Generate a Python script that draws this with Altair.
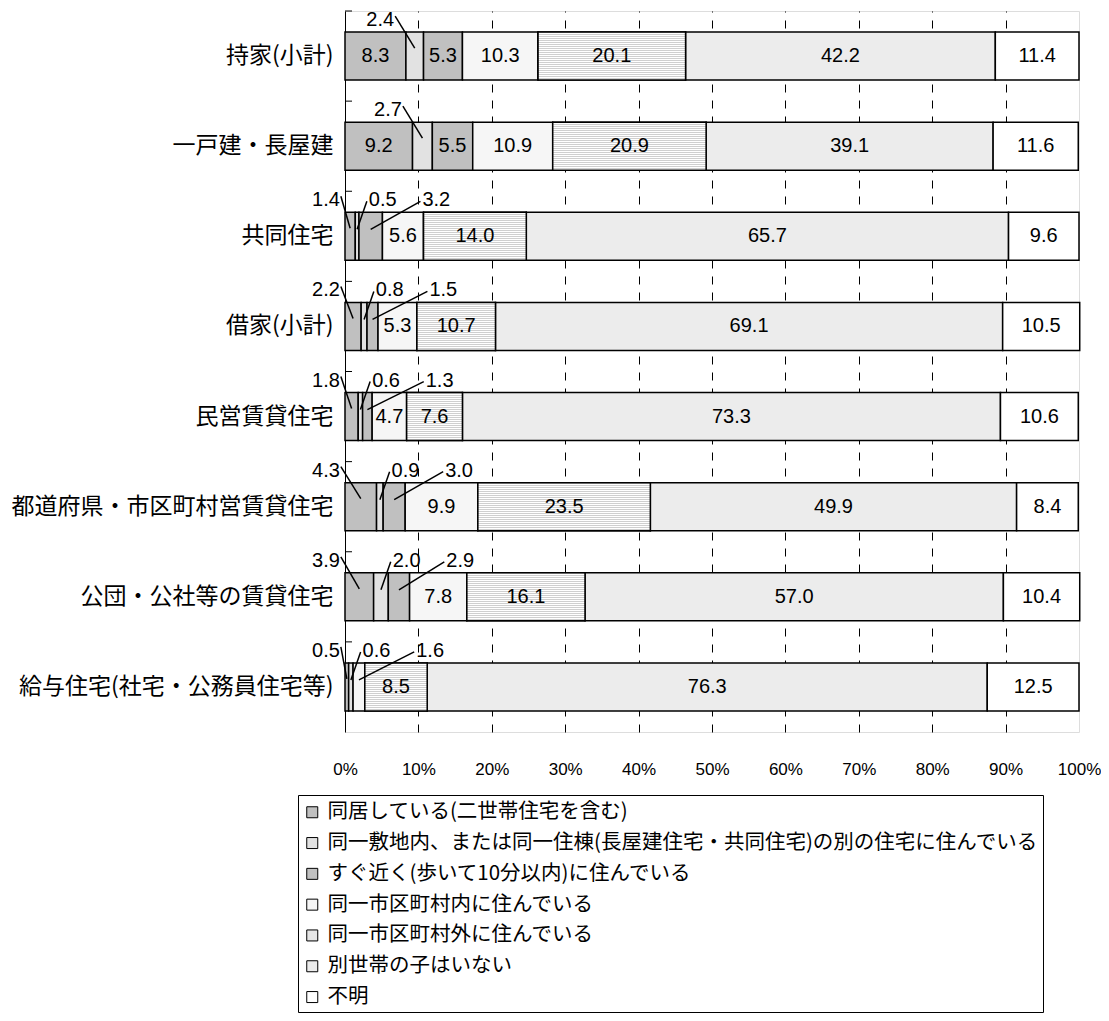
import altair as alt
import pandas as pd

categories = ["持家(小計)", "一戸建・長屋建", "共同住宅", "借家(小計)", "民営賃貸住宅",
              "都道府県・市区町村営賃貸住宅", "公団・公社等の賃貸住宅", "給与住宅(社宅・公務員住宅等)"]
series = ["同居している(二世帯住宅を含む)",
          "同一敷地内、または同一住棟(長屋建住宅・共同住宅)の別の住宅に住んでいる",
          "すぐ近く(歩いて10分以内)に住んでいる",
          "同一市区町村内に住んでいる",
          "同一市区町村外に住んでいる",
          "別世帯の子はいない",
          "不明"]
v_doukyo   = [8.3, 9.2, 1.4, 2.2, 1.8, 4.3, 3.9, 0.5]
v_shikichi = [2.4, 2.7, 0.5, 0.8, 0.6, 0.9, 2.0, 0.6]
v_chikaku  = [5.3, 5.5, 3.2, 1.5, 1.3, 3.0, 2.9, 0.0]
v_shinai   = [10.3, 10.9, 5.6, 5.3, 4.7, 9.9, 7.8, 1.6]
v_shigai   = [20.1, 20.9, 14.0, 10.7, 7.6, 23.5, 16.1, 8.5]
v_inai     = [42.2, 39.1, 65.7, 69.1, 73.3, 49.9, 57.0, 76.3]
v_fumei    = [11.4, 11.6, 9.6, 10.5, 10.6, 8.4, 10.4, 12.5]
values = [v_doukyo, v_shikichi, v_chikaku, v_shinai, v_shigai, v_inai, v_fumei]
ticks = list(range(0, 101, 10))

colors = ["#C0C0C0", "#E2E2E2", "#C0C0C0", "#F6F6F6", "#E6E6E6", "#ECECEC", "#FFFFFF"]

rows = []
for ci, cat in enumerate(categories):
    start = 0.0
    for si, s in enumerate(series):
        v = values[si][ci]
        rows.append(dict(cat=cat, series=s, order=si, value=v, start=start,
                         end=start + v, mid=start + v / 2, label=f"{v:.1f}"))
        start += v
seg = pd.DataFrame(rows)
bars = seg[seg.value > 0]
striped = bars[bars.order == 4]
inside = seg[seg.value >= 4.5]
outside = seg[(seg.value > 0) & (seg.value < 4.5)]

left_rows, right_rows = [], []
for cat in categories:
    grp = outside[outside.cat == cat]
    prev = None
    for k, r in enumerate(grp.itertuples()):
        if k == 0:
            anchor = -0.7 if r.order == 0 else r.mid - 2.8
            left_rows.append(dict(cat=cat, label=r.label, ax=anchor, mid=r.mid))
        else:
            anchor = r.mid + 1.6 if prev is None else prev + 7.3
            prev = anchor
            right_rows.append(dict(cat=cat, label=r.label, ax=anchor, mid=r.mid))
left_df = pd.DataFrame(left_rows)
right_df = pd.DataFrame(right_rows)

JP = "Noto Sans CJK JP"
NUM = "Liberation Sans"

yscale = alt.Scale(domain=categories, paddingInner=0, paddingOuter=0)
xscale = alt.Scale(domain=[0, 100], nice=False)

Y = alt.Y("cat:N", scale=yscale, sort=categories,
          axis=alt.Axis(title=None, labelFont=JP, labelFontSize=23, labelColor="black",
                        labelPadding=12, ticks=False, domainColor="black", domainWidth=1,
                        labelLimit=500, grid=False))
X = alt.X("start:Q", scale=xscale,
          axis=alt.Axis(title=None, values=ticks, labelExpr="datum.value + '%'",
                        labelFont=NUM, labelFontSize=17, labelColor="black",
                        labelPadding=29, labelFlush=False, ticks=False, domain=False,
                        grid=True, gridColor="black", gridDash=[8, 8], gridWidth=1,
                        gridOpacity=alt.condition("datum.value == 0 || datum.value == 100",
                                                  alt.value(0), alt.value(1))))

bar_layer = alt.Chart(bars).mark_bar(height=48, stroke="black", strokeWidth=1.5).encode(
    x=X, x2="end:Q", y=Y,
    color=alt.Color("series:N", scale=alt.Scale(domain=series, range=colors),
                    legend=alt.Legend(title=" ", titleFontSize=2, titlePadding=1,
                                      orient="none", legendX=-47, legendY=784,
                                      labelFont=JP, labelFontSize=20.5, labelColor="black",
                                      symbolType="square", symbolSize=121,
                                      symbolStrokeColor="black", symbolStrokeWidth=1,
                                      strokeColor="black", padding=4, rowPadding=9.8,
                                      labelLimit=1000, labelOffset=5, columns=1)),
    order=alt.Order("order:Q"),
)

# horizontal-stripe texture for the "同一市区町村外" segments
n_stripes = 24
stops = []
for i in range(n_stripes):
    a, b, c = i / n_stripes, (i + 0.5) / n_stripes, (i + 1) / n_stripes
    stops += [alt.GradientStop(offset=a, color="#CFCFCF"),
              alt.GradientStop(offset=b, color="#CFCFCF"),
              alt.GradientStop(offset=b, color="#FFFFFF"),
              alt.GradientStop(offset=c, color="#FFFFFF")]
stripe_fill = alt.LinearGradient(gradient="linear", stops=stops, x1=0, x2=0, y1=0, y2=1)
stripe_layer = alt.Chart(striped).mark_bar(height=48, stroke="black", strokeWidth=1.5,
                                           fill=stripe_fill).encode(
    x=alt.X("start:Q", scale=xscale), x2="end:Q",
    y=alt.Y("cat:N", scale=yscale, sort=categories))

in_text = alt.Chart(inside).mark_text(font=NUM, fontSize=20, color="black").encode(
    x=alt.X("mid:Q", scale=xscale), y=alt.Y("cat:N", scale=yscale, sort=categories),
    text="label:N")

left_text = alt.Chart(left_df).mark_text(font=NUM, fontSize=20, color="black",
                                          align="right", yOffset=-36).encode(
    x=alt.X("ax:Q", scale=xscale), y=alt.Y("cat:N", scale=yscale, sort=categories),
    text="label:N")
right_text = alt.Chart(right_df).mark_text(font=NUM, fontSize=20, color="black",
                                            align="left", yOffset=-36).encode(
    x=alt.X("ax:Q", scale=xscale), y=alt.Y("cat:N", scale=yscale, sort=categories),
    text="label:N")

left_line = alt.Chart(left_df).mark_rule(color="black", strokeWidth=1.5, xOffset=1,
                                         yOffset=-40, y2Offset=-8).encode(
    x=alt.X("ax:Q", scale=xscale), x2="mid:Q",
    y=alt.Y("cat:N", scale=yscale, sort=categories), y2="cat:N")
right_line = alt.Chart(right_df).mark_rule(color="black", strokeWidth=1.5, xOffset=-2,
                                           yOffset=-35, y2Offset=-7).encode(
    x=alt.X("ax:Q", scale=xscale), x2="mid:Q",
    y=alt.Y("cat:N", scale=yscale, sort=categories), y2="cat:N")

tick_df = pd.DataFrame({"cat": categories})
tick_layer = alt.Chart(tick_df).mark_rule(color="black", strokeWidth=1).encode(
    y=alt.Y("cat:N", scale=yscale, sort=categories, bandPosition=0),
    x=alt.value(0), x2=alt.value(7))

chart = alt.layer(bar_layer, stripe_layer, in_text, left_line, right_line, left_text,
                  right_text, tick_layer).properties(
    width=734, height=721,
    padding={"left": 337, "top": 3, "right": 22, "bottom": 281},
    autosize=alt.AutoSizeParams(type="none"),
).configure_view(stroke="#808080", strokeWidth=1).configure(background="white")

chart.save("out.html", embed_options={"renderer": "svg", "actions": False})
